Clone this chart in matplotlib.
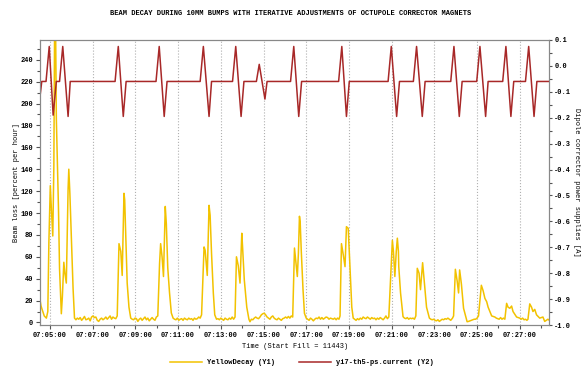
import matplotlib
matplotlib.use("Agg")
import matplotlib.pyplot as plt
from matplotlib.ticker import MultipleLocator, FuncFormatter

# Tiempo en segundos desde las 07:00:00
t_yellow = [272, 275, 278, 284, 290, 294, 297, 301, 304, 308, 311, 313, 316, 318, 321, 324, 327, 332, 335, 339,
            342, 346, 351, 353, 356, 360, 365, 369,
            373, 377, 381, 385, 389, 393, 397, 401, 405, 409, 413, 417, 421, 425, 429, 433, 437, 441, 445, 449,
            453, 457, 461, 465, 469, 473, 477, 481, 485, 489,
            494, 499, 503, 508, 510, 513, 517, 522, 527,
            531, 535, 539, 543, 547, 551, 555, 559, 563, 567, 571, 575, 579, 583, 587, 591, 595, 599, 603,
            608, 611, 615, 619, 622, 624, 627, 631, 636, 641, 646,
            650, 654, 658, 662, 666, 670, 674, 678, 682, 686, 690, 694, 698, 702, 706, 710, 714, 718, 722, 726,
            733, 736, 742, 747, 750, 754, 759, 763, 768,
            772, 776, 780, 784, 788, 792, 796, 800, 804, 808, 812, 816,
            820, 824, 829, 834, 839, 841, 846, 853, 859, 862,
            866, 870, 874, 878, 882, 886, 890, 894, 898, 902, 906, 910, 914, 918, 922, 926, 930, 934, 938, 942,
            946, 950, 954, 958, 962, 966, 970, 974, 978, 982,
            985, 987, 991, 995, 998, 1001, 1003, 1006, 1011, 1015, 1020,
            1024, 1028, 1032, 1036, 1040, 1044, 1048, 1052, 1056, 1060, 1064, 1068, 1072, 1076, 1080, 1084, 1088,
            1092, 1096, 1100, 1104, 1108, 1112, 1115,
            1119, 1124, 1129, 1133, 1138, 1143, 1148, 1152,
            1156, 1160, 1164, 1168, 1172, 1176, 1180, 1184, 1188, 1192, 1196, 1200, 1204, 1208, 1212, 1216, 1220,
            1224, 1228, 1232, 1236, 1240, 1244, 1248, 1252,
            1257, 1262, 1265, 1269, 1273, 1276, 1279, 1280, 1285, 1292,
            1296, 1300, 1304, 1308, 1312, 1316, 1320, 1324, 1328,
            1332, 1337, 1341, 1347, 1351, 1358, 1366,
            1370, 1374, 1378, 1382, 1386, 1390, 1394, 1398, 1402, 1406, 1410, 1414, 1418, 1422, 1426, 1431, 1434,
            1439, 1444, 1448, 1451, 1456, 1462, 1472,
            1476, 1480, 1484, 1488, 1492, 1496, 1500,
            1504, 1512, 1517, 1522, 1527, 1531, 1541, 1550,
            1554, 1558, 1562, 1566, 1570, 1574, 1578,
            1583, 1587, 1592, 1597, 1601, 1611, 1620,
            1624, 1628, 1632, 1636, 1640,
            1643, 1648, 1653, 1657, 1662, 1667, 1676, 1685, 1690, 1699, 1703]
yellow_decay = [21, 15, 12, 6, 4, 10, 73, 125, 104, 79, 143, 265, 265, 186, 146, 104, 49, 8, 24, 55,
                45, 36, 122, 140, 118, 79, 31, 4,
                2.5, 4, 3, 4.5, 2, 3.5, 5.5, 2.5, 3, 4, 1.5, 5, 6, 4.5, 5, 2, 1, 3, 4, 2.5,
                3.5, 5, 3, 4.5, 6, 3, 5, 4, 3.5, 6,
                72, 65, 43, 118, 112, 78, 36, 14, 4,
                3, 2.5, 4, 3.5, 1, 3, 4, 2, 3.5, 5, 2.5, 4, 1.5, 3, 4.5, 3, 2, 5, 6,
                54, 72, 60, 42, 82, 106, 90, 50, 27, 8.7, 4,
                3, 2.5, 4, 2, 3, 3.5, 2, 4, 3, 2.5, 4, 3, 3.5, 2, 4, 3, 3.5, 5, 4, 7,
                69, 66, 43, 107, 98, 63, 27, 7, 3,
                3.5, 2.5, 4, 3, 2, 4, 3, 2.5, 4, 3, 5, 3,
                5, 60, 52, 36, 81.5, 70, 39, 14, 3, 0.7,
                3, 2.5, 4, 5, 4, 3.5, 5, 7, 8, 8.5, 7, 5, 4, 3, 5, 6, 4, 3, 2.5, 4,
                3, 2, 3.5, 4, 5, 4, 5.5, 4, 6, 5,
                42, 68, 55, 42, 63, 97, 92, 66, 30, 8.4, 4,
                3, 2, 4, 3, 1.5, 3, 4, 3.5, 5, 3, 4.5, 3, 4, 5, 4.5, 3, 4,
                3.5, 3, 4, 2.5, 4, 3, 6,
                72, 62, 51, 87.5, 86, 51, 14, 4,
                3, 2, 3.5, 2.5, 4, 3, 5, 4, 3.5, 5, 4, 3, 4.5, 3.5, 4, 2.5, 4,
                3, 4.5, 3.5, 2.5, 4, 6, 3.5, 5,
                40, 75, 65, 42, 65, 77, 65, 51, 27, 5.3,
                4, 3.5, 4.5, 3, 4, 3.5, 4, 3, 6,
                49.5, 45, 30, 54.6, 40, 14, 4,
                3, 2.5, 3, 2, 1.5, 2.5, 1, 2, 3, 2.5, 3.5, 3, 4, 3, 2, 4, 6,
                48.6, 38, 27, 48, 35, 13, 0.7,
                1, 1.5, 2, 2.5, 3, 3, 4,
                6, 34, 29, 22, 19, 14, 6, 5,
                4, 3.5, 3, 4.5, 3, 4, 3,
                17.5, 14, 13, 15, 10, 5, 4,
                3, 4, 2.5, 3, 2,
                3, 17, 14, 10, 12, 7, 4, 5, 1, 3, 2]

t_current = [272, 277, 289, 298, 309, 318, 327, 336, 351, 357,
             483, 492, 506, 514,
             598, 607, 621, 629,
             722, 731, 747, 754,
             813, 822, 837, 845,
             880, 888, 904, 910,
             976, 985, 999, 1007,
             1111, 1120, 1133, 1141,
             1250, 1259, 1274, 1282,
             1321, 1330, 1346, 1354,
             1426, 1435, 1450, 1458,
             1499, 1508, 1524, 1531,
             1572, 1581, 1595, 1603,
             1636, 1645, 1660, 1668,
             1703]
current = [-0.119, -0.06, -0.06, 0.075, -0.19, -0.06, -0.06, 0.075, -0.195, -0.06,
           -0.06, 0.075, -0.195, -0.06,
           -0.06, 0.075, -0.195, -0.06,
           -0.06, 0.075, -0.195, -0.06,
           -0.06, 0.075, -0.195, -0.06,
           -0.06, 0.006, -0.128, -0.06,
           -0.06, 0.075, -0.195, -0.06,
           -0.06, 0.075, -0.195, -0.06,
           -0.06, 0.075, -0.195, -0.06,
           -0.06, 0.075, -0.195, -0.06,
           -0.06, 0.075, -0.195, -0.06,
           -0.06, 0.075, -0.195, -0.06,
           -0.06, 0.075, -0.195, -0.06,
           -0.06, 0.075, -0.195, -0.06,
           -0.06]

plt.rcParams['font.family'] = ['Liberation Mono', 'DejaVu Sans Mono']
plt.rcParams['font.weight'] = 'bold'
plt.rcParams['axes.unicode_minus'] = False

fig = plt.figure(figsize=(5.81, 3.69), dpi=100)
ax = fig.add_axes([0.0688, 0.1192, 0.8767, 0.7724])
ax2 = ax.twinx()

l1, = ax.plot(t_yellow, yellow_decay, color='#f2c200', lw=1.1)
l2, = ax2.plot(t_current, current, color='#a82828', lw=1.1)

ax.set_xlim(272, 1703)
ax.set_ylim(-2.3, 258)
ax2.set_ylim(-1.0, 0.1)


def hms(s, pos=None):
    s = int(round(s))
    return "07:%02d:%02d" % (s // 60, s % 60)


ax.xaxis.set_minor_locator(MultipleLocator(60))
ax.xaxis.set_major_formatter(FuncFormatter(hms))
ax.set_xticks(range(300, 1621, 120))
ax.yaxis.set_major_locator(MultipleLocator(20))
ax.yaxis.set_minor_locator(MultipleLocator(10))
ax2.yaxis.set_major_locator(MultipleLocator(0.1))
ax2.yaxis.set_minor_locator(MultipleLocator(0.05))
ax2.yaxis.set_major_formatter(FuncFormatter(lambda v, p: "%.1f" % v))

ax.grid(axis='x', which='major', color='#b0b0b0', ls=':', lw=0.8)

for a in (ax, ax2):
    for sp in a.spines.values():
        sp.set_color('#888888')
    a.tick_params(which='both', labelsize=5, color='#555555', length=3, width=0.8, pad=2)
    a.tick_params(which='minor', length=2)
ax2.tick_params(which='major', length=2.5, pad=1)

ax.set_xlabel("Time (Start Fill = 11443)", fontsize=5, labelpad=3)
ax.set_ylabel("Beam loss [percent per hour]", fontsize=5, va='center')
ax.yaxis.set_label_coords(-0.046, 0.5)
ax2.set_ylabel("Dipole corrector power supplies [A]", fontsize=5, rotation=270, va='center')
ax2.yaxis.set_label_coords(1.053, 0.5)

fig.text(0.5, 0.963, "BEAM DECAY DURING 10MM BUMPS WITH ITERATIVE ADJUSTMENTS OF OCTUPOLE CORRECTOR MAGNETS",
         ha='center', va='center', fontsize=5)

fig.legend([l1, l2], ["YellowDecay (Y1)", "yi7-th5-ps.current (Y2)"], loc='center',
           bbox_to_anchor=(0.52, 0.017), ncol=2, frameon=False, fontsize=5,
           handlelength=4.5, columnspacing=3.5)

fig.savefig("out.png", dpi=100)
